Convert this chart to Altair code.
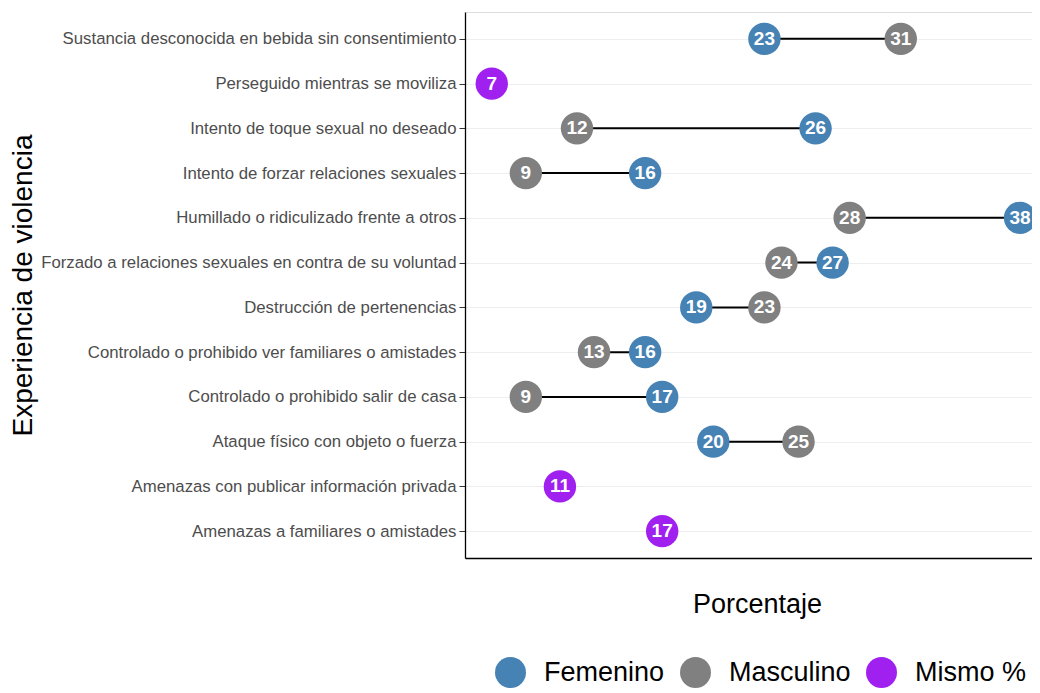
import altair as alt
import pandas as pd

categories = [
    "Sustancia desconocida en bebida sin consentimiento",
    "Perseguido mientras se moviliza",
    "Intento de toque sexual no deseado",
    "Intento de forzar relaciones sexuales",
    "Humillado o ridiculizado frente a otros",
    "Forzado a relaciones sexuales en contra de su voluntad",
    "Destrucción de pertenencias",
    "Controlado o prohibido ver familiares o amistades",
    "Controlado o prohibido salir de casa",
    "Ataque físico con objeto o fuerza",
    "Amenazas con publicar información privada",
    "Amenazas a familiares o amistades",
]
femenino = [23, None, 26, 16, 38, 27, 19, 16, 17, 20, None, None]
masculino = [31, None, 12, 9, 28, 24, 23, 13, 9, 25, None, None]
mismo = [None, 7, None, None, None, None, None, None, None, None, 11, 17]

groups = ["Femenino", "Masculino", "Mismo %"]
colors = ["#4682B4", "#808080", "#A020F0"]

rows = []
segs = []
for c, f, m, s in zip(categories, femenino, masculino, mismo):
    if s is not None:
        rows.append({"cat": c, "grupo": "Mismo %", "valor": s})
    else:
        rows.append({"cat": c, "grupo": "Femenino", "valor": f})
        rows.append({"cat": c, "grupo": "Masculino", "valor": m})
        segs.append({"cat": c, "lo": min(f, m), "hi": max(f, m)})

pts = pd.DataFrame(rows)
seg = pd.DataFrame(segs)

FONT = "Liberation Sans"
xscale = alt.Scale(domain=[5.43, 38.7], nice=False, zero=False)
yscale = alt.Scale(type="point", padding=0.6, domain=categories)

xaxis = alt.Axis(
    title="Porcentaje", labels=False, ticks=False, grid=False,
    domainColor="#000000", domainWidth=1.3,
    titleFontSize=27, titleFontWeight="normal", titleColor="#000000", titleFont=FONT,
    titleX=292, titleY=46, titleBaseline="middle", titleAlign="center",
)
yaxis = alt.Axis(
    title="Experiencia de violencia", grid=True, gridColor="#EEEEEE", gridWidth=1,
    domainColor="#000000", domainWidth=1.3,
    tickColor="#333333", tickSize=6, labelPadding=3, labelLimit=0,
    labelFontSize=16.75, labelColor="#4D4D4D", labelFont=FONT,
    titleFontSize=28, titleFontWeight="normal", titleColor="#000000", titleFont=FONT,
    titleX=-442, titleY=273, titleBaseline="middle", titleAlign="center", titleAngle=270,
)

lines = alt.Chart(seg).mark_rule(color="#000000", strokeWidth=2).encode(
    x=alt.X("lo:Q", scale=xscale, axis=xaxis),
    x2="hi:Q",
    y=alt.Y("cat:N", scale=yscale, sort=categories, axis=yaxis),
)

circles = alt.Chart(pts).mark_circle(size=1050, opacity=1).encode(
    x=alt.X("valor:Q", scale=xscale),
    y=alt.Y("cat:N", scale=yscale, sort=categories),
    color=alt.Color(
        "grupo:N",
        scale=alt.Scale(domain=groups, range=colors),
        legend=alt.Legend(
            title=None, orient="none", direction="horizontal",
            legendX=30, legendY=645,
            symbolType="circle", symbolSize=960, symbolStrokeWidth=0, symbolOpacity=1,
            labelFontSize=27, labelColor="#000000", labelFont=FONT,
            labelOffset=18, columnPadding=15, padding=0,
        ),
    ),
)

labels = alt.Chart(pts).mark_text(
    color="white", fontWeight="bold", fontSize=19, font=FONT, baseline="middle", align="center"
).encode(
    x=alt.X("valor:Q", scale=xscale),
    y=alt.Y("cat:N", scale=yscale, sort=categories),
    text=alt.Text("valor:Q"),
)

chart = (
    alt.layer(lines, circles, labels)
    .properties(
        width=567, height=546,
        autosize=alt.AutoSizeParams(type="none"),
        padding={"left": 457, "top": 4, "right": 0, "bottom": 130},
    )
    .configure_view(stroke=None)
    .configure(background="white")
)

chart.save("out.html", embed_options={"renderer": "svg", "actions": False})
